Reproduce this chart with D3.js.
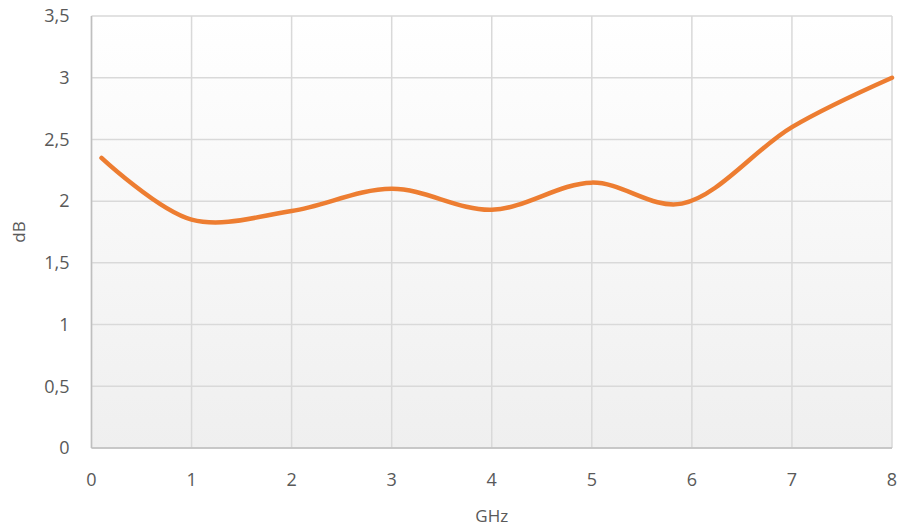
<!DOCTYPE html>
<html>
<head>
<meta charset="utf-8">
<script src="https://cdn.jsdelivr.net/npm/d3@7"></script>
<style>
  body { margin: 0; background: #fff; }
  text { font-family: "Open Sans", "Liberation Sans", sans-serif; fill: #595959; }
</style>
</head>
<body>
<div id="container"></div>
<script>
const width = 903;
const height = 529;
const margin = { top: 16, right: 11, bottom: 81, left: 91.5 };

// data
const ghz = [0.1, 1, 2, 3, 4, 5, 5.9, 7, 8];
const db = [2.35, 1.85, 1.92, 2.1, 1.93, 2.15, 1.98, 2.6, 3.0];
const xTicks = [0, 1, 2, 3, 4, 5, 6, 7, 8];
const yTicks = [0, 0.5, 1, 1.5, 2, 2.5, 3, 3.5];

const svg = d3.select("#container").append("svg")
  .attr("width", width).attr("height", height);

const x = d3.scaleLinear([0, 8], [margin.left, width - margin.right]);
const y = d3.scaleLinear([0, 3.5], [height - margin.bottom, margin.top]);

// plot background gradient
const grad = svg.append("defs").append("linearGradient")
  .attr("id", "bg").attr("x1", 0).attr("y1", 0).attr("x2", 0).attr("y2", 1);
grad.append("stop").attr("offset", "0%").attr("stop-color", "#ffffff");
grad.append("stop").attr("offset", "100%").attr("stop-color", "#efefef");

svg.append("rect")
  .attr("x", x(0)).attr("y", y(3.5))
  .attr("width", x(8) - x(0)).attr("height", y(0) - y(3.5))
  .attr("fill", "url(#bg)");

// grid
svg.append("g").selectAll("line").data(xTicks).join("line")
  .attr("x1", d => x(d)).attr("x2", d => x(d))
  .attr("y1", y(0)).attr("y2", y(3.5))
  .attr("stroke", "#d9d9d9").attr("stroke-width", 1.5);
svg.append("g").selectAll("line").data(yTicks).join("line")
  .attr("x1", x(0)).attr("x2", x(8))
  .attr("y1", d => y(d)).attr("y2", d => y(d))
  .attr("stroke", "#d9d9d9").attr("stroke-width", 1.5);

// axis lines
svg.append("line").attr("x1", x(0)).attr("x2", x(0)).attr("y1", y(0)).attr("y2", y(3.5))
  .attr("stroke", "#bfbfbf").attr("stroke-width", 1.5);
svg.append("line").attr("x1", x(0)).attr("x2", x(8)).attr("y1", y(0)).attr("y2", y(0))
  .attr("stroke", "#bfbfbf").attr("stroke-width", 1.5);

const fmt = d => String(d).replace(".", ",");

// tick labels
svg.append("g").selectAll("text").data(yTicks).join("text")
  .attr("x", x(0) - 22).attr("y", d => y(d))
  .attr("dy", "0.35em").attr("text-anchor", "end")
  .attr("font-size", 18).text(fmt);
svg.append("g").selectAll("text").data(xTicks).join("text")
  .attr("x", d => x(d)).attr("y", y(0) + 38)
  .attr("text-anchor", "middle")
  .attr("font-size", 18).text(fmt);

// axis titles
svg.append("text").attr("x", (x(0) + x(8)) / 2).attr("y", 522)
  .attr("text-anchor", "middle").attr("font-size", 17).text("GHz");
svg.append("text")
  .attr("transform", `translate(25,${(y(0) + y(3.5)) / 2}) rotate(-90)`)
  .attr("text-anchor", "middle").attr("font-size", 17).text("dB");

// smoothed line
const line = d3.line()
  .x((d, i) => x(ghz[i]))
  .y(d => y(d))
  .curve(d3.curveCatmullRom.alpha(0.5));

svg.append("path").datum(db)
  .attr("d", line)
  .attr("fill", "none")
  .attr("stroke", "#ed7d31")
  .attr("stroke-width", 4.5)
  .attr("stroke-linecap", "round");
</script>
</body>
</html>
